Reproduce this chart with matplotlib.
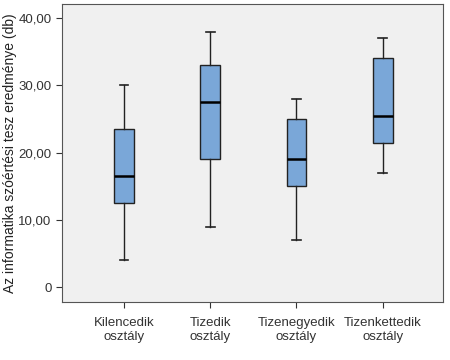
import matplotlib
matplotlib.use('Agg')
import matplotlib.pyplot as plt

plt.rcParams['font.family'] = ['Liberation Sans', 'DejaVu Sans']

categories = ['Kilencedik\nosztály', 'Tizedik\nosztály',
              'Tizenegyedik\nosztály', 'Tizenkettedik\nosztály']
whislo = [4.0, 9.0, 7.0, 17.0]
q1 = [12.5, 19.0, 15.0, 21.5]
med = [16.5, 27.5, 19.0, 25.5]
q3 = [23.5, 33.0, 25.0, 34.0]
whishi = [30.0, 38.0, 28.0, 37.0]

stats = []
for i in range(len(categories)):
    stats.append({'whislo': whislo[i], 'q1': q1[i], 'med': med[i],
                  'q3': q3[i], 'whishi': whishi[i], 'fliers': []})

fig = plt.figure(figsize=(4.5, 3.6), dpi=100)
ax = fig.add_axes([62 / 450, 58 / 360, 381 / 450, 298 / 360])
ax.set_facecolor('#f0f0f0')

ax.bxp(stats, positions=range(1, 5), widths=0.23, patch_artist=True,
       showfliers=False,
       boxprops=dict(facecolor='#7aa7d8', edgecolor='#222222', lw=1.0),
       medianprops=dict(color='black', lw=1.8),
       whiskerprops=dict(color='#222222', lw=1.0),
       capprops=dict(color='#222222', lw=1.2),
       capwidths=0.1)

ax.set_xlim(0.28, 4.7)
ax.set_ylim(-2.2, 42.1)
ax.set_yticks([0, 10, 20, 30, 40])
ax.set_yticklabels(['0', '10,00', '20,00', '30,00', '40,00'])
ax.set_xticks(range(1, 5))
ax.set_xticklabels(categories)
ax.set_ylabel('Az informatika szóértési tesz eredménye (db)', fontsize=10,
              color='#222222')
ax.yaxis.set_label_coords(-0.117, 0.5)
ax.tick_params(labelsize=9.5, colors='#333333', length=4)
ax.tick_params(axis='x', pad=7)
for s in ax.spines.values():
    s.set_color('#555555')

fig.savefig('out.png', dpi=100)
